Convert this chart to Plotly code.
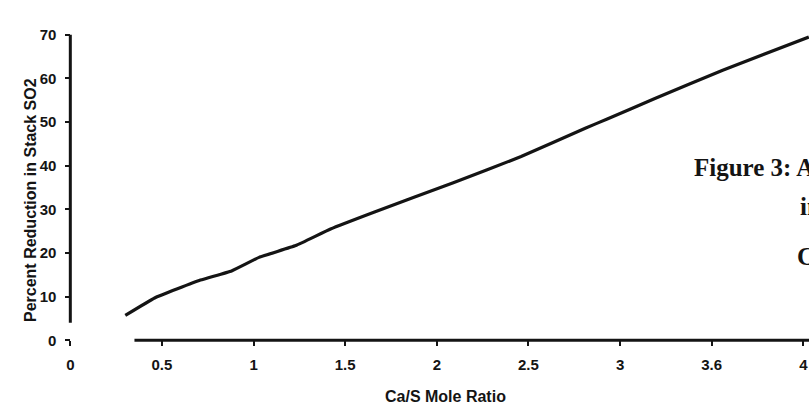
import plotly.graph_objects as go

# ---- data ----
ca_s_ratio = [0.30, 0.46, 0.71, 0.88, 1.03, 1.23, 1.42, 1.66, 2.09, 2.46, 2.81, 2.93, 3.19, 3.56, 4.03]
so2_reduction = [5.7, 9.7, 13.8, 15.9, 19.0, 21.7, 25.5, 29.4, 36.1, 42.1, 48.6, 50.7, 55.4, 61.9, 69.5]

x_tick_vals = [0, 0.5, 1, 1.5, 2, 2.5, 3, 3.5, 4]
x_tick_text = ["0", "0.5", "1", "1.5", "2", "2.5", "3", "3.6", "4"]
y_tick_vals = [0, 10, 20, 30, 40, 50, 60, 70]
y_tick_text = ["0", "10", "20", "30", "40", "50", "60", "70"]

x_title = "Ca/S Mole Ratio"
y_title = "Percent Reduction in Stack SO2"
side_text = ["Figure 3: A", "in", "C"]

# ---- layout geometry ----
W, H = 809, 409
ML, MR, MT, MB = 52, 0, 13, 60
XR = [-0.1, 4.031]
YR = [-2, 75]
INK = "#141414"
SANS = "Liberation Sans, Arial, sans-serif"
SERIF = "Liberation Serif, Times New Roman, serif"

pw = W - ML - MR
ph = H - MT - MB
def px_to_paper_x(px):
    return (px - ML) / pw
def px_to_paper_y(py):
    return (H - MB - py) / ph

fig = go.Figure()
fig.add_trace(go.Scatter(
    x=ca_s_ratio, y=so2_reduction, mode="lines",
    line=dict(color=INK, width=3.2, shape="spline", smoothing=0.3),
    showlegend=False, hoverinfo="skip"))

# axis lines (the y axis stops at 70, the x axis starts after the break)
fig.add_shape(type="line", xref="x", yref="y", x0=0, x1=0, y0=4, y1=70,
              line=dict(color=INK, width=3))
fig.add_shape(type="line", xref="x", yref="y", x0=0.35, x1=XR[1] + 0.1, y0=0, y1=0,
              line=dict(color=INK, width=3))

fig.update_layout(
    width=W, height=H,
    margin=dict(l=ML, r=MR, t=MT, b=MB),
    paper_bgcolor="white", plot_bgcolor="white",
    font=dict(family=SANS, color=INK, size=15),
    xaxis=dict(range=XR, showgrid=False, zeroline=False, showline=False,
               tickvals=x_tick_vals, ticktext=x_tick_text,
               ticks="outside", ticklen=5, tickwidth=2, tickcolor=INK,
               ticklabelstandoff=6,
               tickfont=dict(family=SANS, size=15, color=INK, weight="bold"),
               anchor="free", position=(0 - YR[0]) / (YR[1] - YR[0])),
    yaxis=dict(range=YR, showgrid=False, zeroline=False, showline=False,
               tickvals=y_tick_vals, ticktext=y_tick_text,
               ticks="outside", ticklen=5, tickwidth=2, tickcolor=INK,
               ticklabelstandoff=6,
               tickfont=dict(family=SANS, size=15, color=INK, weight="bold"),
               anchor="free", position=(0 - XR[0]) / (XR[1] - XR[0])),
)

fig.add_annotation(text=f"<b>{x_title}</b>", xref="x", yref="paper",
                   x=2.05, y=px_to_paper_y(396), xanchor="center", yanchor="middle",
                   showarrow=False, font=dict(family=SANS, size=16, color=INK))
fig.add_annotation(text=f"<b>{y_title}</b>", xref="paper", yref="paper",
                   x=px_to_paper_x(30), y=px_to_paper_y(200), textangle=-90,
                   xanchor="center", yanchor="middle",
                   showarrow=False, font=dict(family=SANS, size=16, color=INK))

# page caption text that runs off the right edge in the reference scan
side_pos = [(692, 167), (798, 206), (795, 256)]
for txt, (sx, sy) in zip(side_text, side_pos):
    fig.add_annotation(text=f"<b>{txt}</b>", xref="paper", yref="paper",
                       x=px_to_paper_x(sx), y=px_to_paper_y(sy),
                       xanchor="left", yanchor="middle", showarrow=False,
                       font=dict(family=SERIF, size=25, color=INK))

fig.write_html("out.html")
